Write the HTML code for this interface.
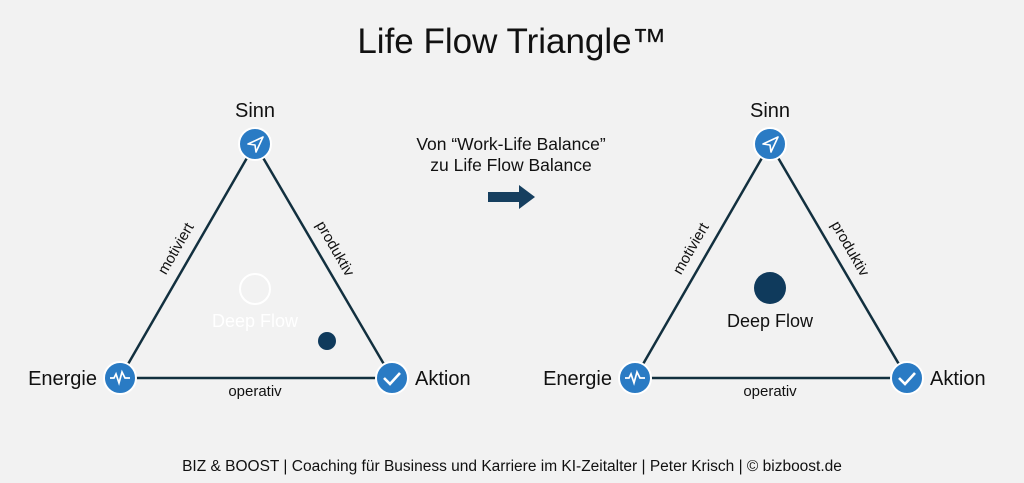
<!DOCTYPE html>
<html><head><meta charset="utf-8"><style>
body{margin:0;background:#f2f2f2;width:1024px;height:483px;overflow:hidden}
svg{display:block}
text{font-family:"Liberation Sans",sans-serif;fill:#111}
</style></head><body>
<svg width="1024" height="483" viewBox="0 0 1024 483">
<rect width="1024" height="483" fill="#f2f2f2"/>
<text x="512" y="53" font-size="35" text-anchor="middle">Life Flow Triangle™</text>
<text x="511" y="150" font-size="17.5" text-anchor="middle">Von “Work-Life Balance”</text>
<text x="511" y="171" font-size="17.5" text-anchor="middle">zu Life Flow Balance</text>
<polygon points="488,192 519,192 519,185 535,197 519,209 519,202 488,202" fill="#163f5f"/>
<g id="L">
<line x1="255" y1="144" x2="120" y2="378" stroke="#12303f" stroke-width="2.5"/>
<line x1="255" y1="144" x2="392" y2="378" stroke="#12303f" stroke-width="2.5"/>
<line x1="120" y1="378" x2="392" y2="378" stroke="#12303f" stroke-width="2.5"/>
<text x="255" y="117" font-size="20" text-anchor="middle">Sinn</text>
<text x="97" y="385" font-size="20" text-anchor="end">Energie</text>
<text x="415" y="385" font-size="20">Aktion</text>
<text x="255" y="396" font-size="15" text-anchor="middle">operativ</text>
<text transform="translate(180,251) rotate(-60)" font-size="15" text-anchor="middle">motiviert</text>
<text transform="translate(331,251) rotate(60)" font-size="15" text-anchor="middle">produktiv</text>
<circle cx="255" cy="144" r="16" fill="#2a7bc4" stroke="#fff" stroke-width="2"/>
<path d="M248,144 L263,137 L256,152 L255,145 Z" fill="none" stroke="#fff" stroke-width="1.6" stroke-linejoin="round"/>
<circle cx="120" cy="378" r="16" fill="#2a7bc4" stroke="#fff" stroke-width="2"/>
<path d="M110,378 H114 L116,374 L119,383 L122,372 L125,378 H130" fill="none" stroke="#fff" stroke-width="1.7"/>
<circle cx="392" cy="378" r="16" fill="#2a7bc4" stroke="#fff" stroke-width="2"/>
<path d="M384,378 L390,384 L400,373" fill="none" stroke="#fff" stroke-width="2.6"/>
</g>
<circle cx="255" cy="289" r="15" fill="none" stroke="#fff" stroke-width="2"/>
<text x="255" y="327" font-size="18" text-anchor="middle" style="fill:#fff">Deep Flow</text>
<circle cx="327" cy="341" r="9" fill="#0f3a5c"/>
<use href="#L" transform="translate(515,0)"/>
<circle cx="770" cy="288" r="16" fill="#0f3a5c"/>
<text x="770" y="327" font-size="18" text-anchor="middle">Deep Flow</text>
<text x="512" y="471" font-size="15.5" text-anchor="middle">BIZ &amp; BOOST | Coaching für Business und Karriere im KI-Zeitalter | Peter Krisch | © bizboost.de</text>
</svg>
</body></html>
